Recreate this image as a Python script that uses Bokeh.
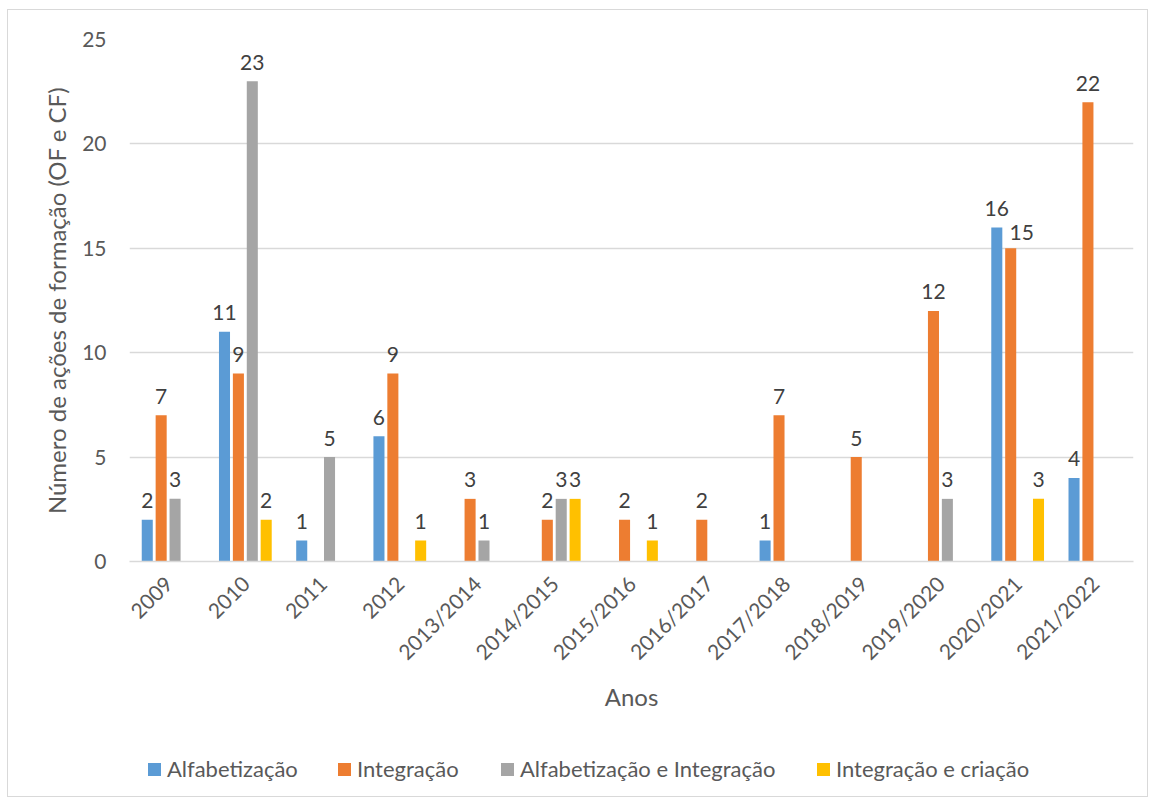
import math

from bokeh.core.properties import value
from bokeh.embed import file_html
from bokeh.layouts import column
from bokeh.models import (ColumnDataSource, Div, FactorRange, Range1d,
                          SingleIntervalTicker)
from bokeh.plotting import figure
from bokeh.resources import INLINE
from bokeh.transform import dodge

# School years on the x axis
anos = ["2009", "2010", "2011", "2012", "2013/2014", "2014/2015", "2015/2016",
        "2016/2017", "2017/2018", "2018/2019", "2019/2020", "2020/2021", "2021/2022"]

# Training actions per type (OF and CF)
alfabetizacao = [2, 11, 1, 6, 0, 0, 0, 0, 1, 0, 0, 16, 4]
integracao = [7, 9, 0, 9, 3, 2, 2, 2, 7, 5, 12, 15, 22]
alfab_integracao = [3, 23, 5, 0, 1, 3, 0, 0, 0, 0, 3, 0, 0]
integracao_criacao = [0, 2, 0, 1, 0, 3, 1, 0, 0, 0, 0, 3, 0]

series = [
    ("Alfabetização", alfabetizacao, "#5B9BD5"),
    ("Integração", integracao, "#ED7D31"),
    ("Alfabetização e Integração", alfab_integracao, "#A5A5A5"),
    ("Integração e criação", integracao_criacao, "#FFC000"),
]

FONT = "Lato"
SLOT = 0.18
BAR_W = 0.143
W = 1139

# one label that sits beside its bar instead of on top (pixels)
label_nudge = {("Integração", "2020/2021"): (11, 3)}

# left edge of each legend entry, relative to the chart's inner left edge
legend_left = [140, 330, 493, 809]

p = figure(width=W, height=720, x_range=FactorRange(*anos),
           y_range=Range1d(0, 25), output_backend="svg", toolbar_location=None,
           min_border_left=121, min_border_right=14, min_border_top=29,
           min_border_bottom=169)
p.outline_line_color = None
p.background_fill_color = "white"
p.border_fill_color = "white"

for i, (name, vals, color) in enumerate(series):
    off = (i - 1.5) * SLOT
    xs = [a for a, v in zip(anos, vals) if v > 0]
    ys = [v for v in vals if v > 0]
    dx = [label_nudge.get((name, a), (0, 0))[0] for a in xs]
    dy = [-19 + label_nudge.get((name, a), (0, 0))[1] for a in xs]
    src = ColumnDataSource(dict(x=xs, y=ys, txt=[str(v) for v in ys], dx=dx, dy=dy))
    p.vbar(x=dodge("x", off, range=p.x_range), top="y", width=BAR_W,
           source=src, fill_color=color, line_color=None)
    p.text(x=dodge("x", off, range=p.x_range), y="y", text="txt", source=src,
           x_offset="dx", y_offset="dy", text_align="center",
           text_baseline="alphabetic", text_font=value(FONT),
           text_font_size="21px", text_color="#404040")

# axes
p.yaxis.ticker = SingleIntervalTicker(interval=5)
p.yaxis.axis_line_color = None
p.yaxis.major_tick_line_color = None
p.yaxis.minor_tick_line_color = None
p.yaxis.major_tick_out = 0
p.yaxis.major_tick_in = 0
p.yaxis.major_label_standoff = 19
p.yaxis.axis_label = "Número de ações de formação (OF e CF)"
p.yaxis.axis_label_standoff = 8

p.xaxis.axis_line_color = "#D9D9D9"
p.xaxis.axis_line_width = 1.5
p.xaxis.major_tick_line_color = None
p.xaxis.minor_tick_line_color = None
p.xaxis.major_label_orientation = math.pi / 4
p.xaxis.major_label_standoff = 12
p.xaxis.axis_label = "Anos"
p.xaxis.axis_label_standoff = 6

for ax in (p.xaxis, p.yaxis):
    ax.major_label_text_font = FONT
    ax.major_label_text_font_size = "21px"
    ax.major_label_text_color = "#595959"
    ax.axis_label_text_font = FONT
    ax.axis_label_text_font_size = "24px"
    ax.axis_label_text_font_style = "normal"
    ax.axis_label_text_color = "#595959"

p.xgrid.grid_line_color = None
p.ygrid.grid_line_color = "#D9D9D9"
p.ygrid.grid_line_width = 1.5

# legend strip under the chart, laid out as HTML
entries = []
for (name, _, color), left in zip(series, legend_left):
    entries.append(
        f'<div style="position:absolute;left:{left}px;top:28px;display:flex;'
        f'align-items:center;gap:6px;height:22px;">'
        f'<span style="display:inline-block;width:13px;height:13px;'
        f'background:{color};"></span>'
        f'<span style="font-family:{FONT};font-size:22px;line-height:22px;'
        f'color:#595959;white-space:nowrap;">{name}</span></div>'
    )
legend_html = ('<div style="position:relative;width:1139px;height:66px;">'
               + "".join(entries) + "</div>")
lg = Div(text=legend_html, width=W, height=66, margin=0)

chart = column(p, lg, spacing=0, margin=(9, 0, 0, 7))
chart.styles = {"border": "1px solid #D9D9D9"}

open("out.html", "w").write(file_html(chart, INLINE))
